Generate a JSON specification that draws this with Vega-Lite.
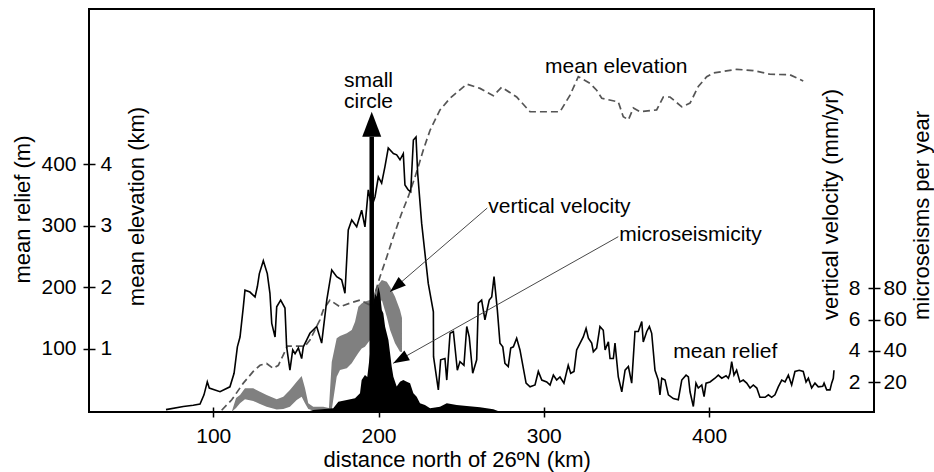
{
  "$schema": "https://vega.github.io/schema/vega-lite/v6.json",
  "width": 785,
  "height": 403,
  "autosize": {"type": "none"},
  "padding": {"left": 89, "top": 9, "right": 60, "bottom": 60},
  "background": "white",
  "config": {
    "view": {"stroke": "black", "strokeWidth": 2},
    "font": "Liberation Sans",
    "axis": {
      "grid": false,
      "domain": false,
      "labelFont": "Liberation Sans",
      "titleFont": "Liberation Sans",
      "labelColor": "black",
      "titleColor": "black",
      "tickColor": "black",
      "tickWidth": 1.5,
      "labelFontSize": 21,
      "titleFontSize": 22,
      "titleFontWeight": "normal"
    }
  },
  "datasets": {
    "relief": [
      {"km":71.4,"m":1},{"km":81.9,"m":6},{"km":87.9,"m":8},{"km":92.0,"m":10},{"km":94.4,"m":25},{"km":96.4,"m":46},{"km":97.6,"m":36},{"km":104.1,"m":30},{"km":110.1,"m":38},{"km":112.6,"m":60},{"km":114.6,"m":103},{"km":116.2,"m":119},{"km":118.2,"m":168},{"km":119.2,"m":195},{"km":122.2,"m":192},{"km":125.3,"m":184},{"km":126.7,"m":201},{"km":127.9,"m":222},{"km":130.3,"m":243},{"km":132.7,"m":222},{"km":134.3,"m":190},{"km":135.4,"m":141},{"km":137.4,"m":119},{"km":138.4,"m":168},{"km":140.8,"m":179},{"km":143.4,"m":166},{"km":144.4,"m":103},{"km":146.4,"m":65},{"km":148.1,"m":98},{"km":149.5,"m":92},{"km":151.5,"m":101},{"km":153.5,"m":84},{"km":154.5,"m":103},{"km":156.5,"m":114},{"km":158.5,"m":125},{"km":162.6,"m":136},{"km":165.6,"m":109},{"km":168.7,"m":179},{"km":171.7,"m":228},{"km":174.7,"m":217},{"km":177.7,"m":212},{"km":179.7,"m":190},{"km":181.7,"m":293},{"km":183.8,"m":309},{"km":186.8,"m":298},{"km":189.8,"m":325},{"km":191.8,"m":298},{"km":193.8,"m":358},{"km":195.9,"m":331},{"km":197.9,"m":347},{"km":199.9,"m":379},{"km":201.9,"m":369},{"km":203.9,"m":396},{"km":205.9,"m":426},{"km":209.0,"m":417},{"km":211.0,"m":415},{"km":213.0,"m":407},{"km":215.0,"m":417},{"km":216.0,"m":366},{"km":218.0,"m":358},{"km":219.5,"m":355},{"km":221.1,"m":439},{"km":222.7,"m":444},{"km":223.7,"m":385},{"km":226.1,"m":304},{"km":230.1,"m":206},{"km":233.2,"m":160},{"km":233.3,"m":87},{"km":236.2,"m":33},{"km":237.6,"m":82},{"km":240.2,"m":84},{"km":241.3,"m":49},{"km":243.3,"m":125},{"km":245.3,"m":128},{"km":247.7,"m":65},{"km":249.3,"m":79},{"km":251.7,"m":73},{"km":253.4,"m":136},{"km":254.9,"m":119},{"km":257.0,"m":60},{"km":259.4,"m":82},{"km":260.4,"m":174},{"km":262.4,"m":179},{"km":264.4,"m":147},{"km":267.0,"m":179},{"km":268.5,"m":184},{"km":269.9,"m":217},{"km":271.9,"m":163},{"km":273.5,"m":109},{"km":275.2,"m":103},{"km":276.5,"m":76},{"km":278.5,"m":71},{"km":280.0,"m":101},{"km":281.6,"m":103},{"km":283.6,"m":117},{"km":285.6,"m":98},{"km":289.3,"m":44},{"km":291.7,"m":38},{"km":294.7,"m":41},{"km":296.7,"m":63},{"km":298.8,"m":49},{"km":301.8,"m":46},{"km":303.8,"m":41},{"km":305.8,"m":57},{"km":307.8,"m":49},{"km":309.8,"m":54},{"km":312.2,"m":44},{"km":314.8,"m":73},{"km":316.3,"m":60},{"km":318.3,"m":63},{"km":319.9,"m":98},{"km":323.9,"m":119},{"km":325.6,"m":133},{"km":327.0,"m":117},{"km":329.0,"m":109},{"km":330.0,"m":95},{"km":332.0,"m":101},{"km":334.0,"m":136},{"km":336.0,"m":130},{"km":337.1,"m":98},{"km":339.1,"m":111},{"km":340.1,"m":84},{"km":342.1,"m":84},{"km":343.1,"m":109},{"km":345.1,"m":54},{"km":347.2,"m":30},{"km":349.2,"m":65},{"km":351.2,"m":71},{"km":353.2,"m":44},{"km":355.2,"m":128},{"km":357.2,"m":128},{"km":359.3,"m":144},{"km":360.2,"m":111},{"km":362.3,"m":128},{"km":363.9,"m":136},{"km":365.3,"m":125},{"km":367.3,"m":65},{"km":369.3,"m":49},{"km":370.3,"m":25},{"km":371.4,"m":52},{"km":373.4,"m":49},{"km":375.4,"m":25},{"km":378.4,"m":19},{"km":381.4,"m":17},{"km":383.5,"m":49},{"km":386.1,"m":57},{"km":387.5,"m":54},{"km":388.5,"m":30},{"km":390.5,"m":6},{"km":392.1,"m":44},{"km":393.5,"m":36},{"km":395.6,"m":41},{"km":397.0,"m":22},{"km":398.2,"m":44},{"km":400.6,"m":46},{"km":403.6,"m":52},{"km":405.6,"m":57},{"km":407.7,"m":52},{"km":410.3,"m":56},{"km":411.7,"m":52},{"km":412.7,"m":60},{"km":413.7,"m":79},{"km":415.1,"m":57},{"km":416.7,"m":65},{"km":418.7,"m":46},{"km":420.7,"m":49},{"km":422.8,"m":44},{"km":424.8,"m":36},{"km":426.8,"m":41},{"km":428.9,"m":36},{"km":430.8,"m":21},{"km":433.9,"m":21},{"km":435.9,"m":25},{"km":437.9,"m":21},{"km":439.9,"m":25},{"km":441.9,"m":38},{"km":444.0,"m":49},{"km":446.0,"m":46},{"km":448.0,"m":57},{"km":450.0,"m":41},{"km":452.0,"m":63},{"km":454.6,"m":65},{"km":457.0,"m":63},{"km":458.7,"m":46},{"km":460.1,"m":52},{"km":462.1,"m":36},{"km":464.1,"m":44},{"km":466.1,"m":38},{"km":468.8,"m":39},{"km":469.6,"m":44},{"km":471.2,"m":33},{"km":473.2,"m":33},{"km":474.2,"m":44},{"km":475.2,"m":52},{"km":475.6,"m":65}
    ],
    "elevation": [
      {"km":105.1,"elev":0},{"km":111.2,"elev":0.17},{"km":118.2,"elev":0.44},{"km":124.2,"elev":0.63},{"km":128.3,"elev":0.73},{"km":132.3,"elev":0.76},{"km":136.3,"elev":0.68},{"km":139.4,"elev":0.73},{"km":142.4,"elev":0.9},{"km":144.8,"elev":1.04},{"km":155.5,"elev":1.04},{"km":158.5,"elev":1.14},{"km":164.6,"elev":1.47},{"km":166.6,"elev":1.63},{"km":170.6,"elev":1.79},{"km":176.7,"elev":1.68},{"km":182.7,"elev":1.74},{"km":188.8,"elev":1.79},{"km":194.8,"elev":1.71},{"km":197.9,"elev":1.9},{"km":200.9,"elev":2.17},{"km":205.0,"elev":2.49},{"km":209.0,"elev":2.82},{"km":214.0,"elev":3.2},{"km":218.0,"elev":3.47},{"km":222.1,"elev":3.79},{"km":224.1,"elev":3.96},{"km":227.1,"elev":4.23},{"km":231.2,"elev":4.55},{"km":237.2,"elev":4.88},{"km":243.3,"elev":5.07},{"km":253.4,"elev":5.3},{"km":261.4,"elev":5.23},{"km":269.5,"elev":5.11},{"km":274.5,"elev":5.25},{"km":283.6,"elev":5.09},{"km":291.7,"elev":4.85},{"km":309.8,"elev":4.85},{"km":315.9,"elev":5.12},{"km":320.9,"elev":5.42},{"km":328.0,"elev":5.31},{"km":332.0,"elev":5.2},{"km":335.1,"elev":5.07},{"km":345.1,"elev":5.01},{"km":348.1,"elev":4.77},{"km":351.2,"elev":4.72},{"km":354.2,"elev":4.91},{"km":358.2,"elev":4.85},{"km":368.3,"elev":4.88},{"km":372.3,"elev":5.09},{"km":376.4,"elev":5.09},{"km":383.5,"elev":4.93},{"km":388.5,"elev":4.99},{"km":393.5,"elev":5.26},{"km":398.6,"elev":5.42},{"km":402.6,"elev":5.48},{"km":416.7,"elev":5.54},{"km":426.8,"elev":5.52},{"km":436.9,"elev":5.46},{"km":449.0,"elev":5.45},{"km":457.0,"elev":5.35}
    ],
    "velocity": [
      {"km":111.2,"lo":0.12,"hi":0.12},{"km":113.8,"lo":0.36,"hi":1.0},{"km":116.2,"lo":0.66,"hi":1.19},{"km":119.2,"lo":0.91,"hi":1.61},{"km":124.2,"lo":0.8,"hi":1.61},{"km":128.3,"lo":0.61,"hi":1.4},{"km":132.3,"lo":0.44,"hi":1.19},{"km":138.4,"lo":0.26,"hi":0.91},{"km":142.4,"lo":0.29,"hi":1.08},{"km":146.4,"lo":0.44,"hi":1.51},{"km":150.5,"lo":0.87,"hi":2.03},{"km":153.5,"lo":1.08,"hi":2.4},{"km":155.5,"lo":0.66,"hi":1.63},{"km":157.5,"lo":0.29,"hi":0.66},{"km":160.5,"lo":0.2,"hi":0.44},{"km":166.6,"lo":0.17,"hi":0.44},{"km":170.0,"lo":0.13,"hi":0.36},{"km":171.7,"lo":0.23,"hi":3.29},{"km":174.7,"lo":2.35,"hi":4.8},{"km":176.7,"lo":2.78,"hi":4.95},{"km":180.8,"lo":2.89,"hi":5.12},{"km":183.8,"lo":3.21,"hi":5.33},{"km":185.8,"lo":3.55,"hi":5.86},{"km":187.8,"lo":3.87,"hi":6.82},{"km":189.8,"lo":4.16,"hi":7.03},{"km":191.8,"lo":4.27,"hi":7.15},{"km":194.9,"lo":4.69,"hi":7.25},{"km":196.7,"lo":5.65,"hi":7.5},{"km":198.9,"lo":6.61,"hi":8.09},{"km":202.0,"lo":7.25,"hi":8.52},{"km":205.0,"lo":6.18,"hi":8.41},{"km":207.0,"lo":5.33,"hi":8.07},{"km":210.0,"lo":4.48,"hi":7.46},{"km":213.0,"lo":3.95,"hi":6.61},{"km":214.2,"lo":3.93,"hi":6.1}
    ],
    "seismicity": [
      {"km":153.5,"n":0},{"km":160.5,"n":2.3},{"km":172.6,"n":3.4},{"km":175.7,"n":7.6},{"km":180.8,"n":8.7},{"km":185.8,"n":9.8},{"km":188.8,"n":12.9},{"km":189.8,"n":21.4},{"km":191.8,"n":24.6},{"km":193.2,"n":23.3},{"km":194.9,"n":38.5},{"km":195.9,"n":59.7},{"km":196.9,"n":70.3},{"km":197.9,"n":76.7},{"km":198.9,"n":74.6},{"km":199.9,"n":80.9},{"km":200.9,"n":76.7},{"km":202.0,"n":66.1},{"km":202.9,"n":64.0},{"km":204.0,"n":55.4},{"km":206.0,"n":46.9},{"km":207.0,"n":38.5},{"km":208.0,"n":29.9},{"km":209.0,"n":23.5},{"km":211.0,"n":17.2},{"km":213.0,"n":20.3},{"km":215.0,"n":21.4},{"km":217.1,"n":20.3},{"km":219.1,"n":19.3},{"km":221.1,"n":12.9},{"km":223.1,"n":10.8},{"km":225.1,"n":6.6},{"km":228.1,"n":5.5},{"km":231.2,"n":3.4},{"km":237.2,"n":4.4},{"km":241.3,"n":6.6},{"km":247.3,"n":5.5},{"km":253.4,"n":4.8},{"km":261.4,"n":4.0},{"km":269.5,"n":2.7},{"km":273.5,"n":1.2},{"km":276.5,"n":0}
    ],
    "labels": [
      {"label":"small","km":179.1,"m":526},
      {"label":"circle","km":179.1,"m":491},
      {"label":"mean elevation","km":300.8,"m":548.5},
      {"label":"vertical velocity","km":266.4,"m":320.5},
      {"label":"microseismicity","km":345.7,"m":275},
      {"label":"mean relief","km":378.4,"m":84.8}
    ],
    "pointers": [
      {"arrow":"vertical velocity","km":265.8,"m":328.6},
      {"arrow":"vertical velocity","km":207.0,"m":192.6},
      {"arrow":"microseismicity","km":345.1,"m":282.0},
      {"arrow":"microseismicity","km":208.9,"m":76.2}
    ],
    "shaft": [{"km":195.9,"m":-2.9,"m2":444.5}],
    "circleHead": [{"km":195.9,"m":485.1}],
    "vvHead": [{"km":207.0,"m":192.6}],
    "msHead": [{"km":208.9,"m":76.2}]
  },
  "encoding": {
    "x": {
      "field": "km",
      "type": "quantitative",
      "scale": {"domain": [24.82, 499.82], "nice": false, "zero": false},
      "axis": {
        "orient": "bottom",
        "values": [100, 200, 300, 400],
        "offset": -5,
        "tickSize": 10,
        "labelPadding": 25.7,
        "labelBaseline": "alphabetic",
        "labelFlush": false,
        "title": "distance north of 26ºN (km)",
        "titleX": 367.7,
        "titleY": 59.7,
        "titleBaseline": "alphabetic",
        "titleAlign": "center",
        "titleAnchor": null
      }
    }
  },
  "layer": [
    {
      "data": {"name": "velocity"},
      "mark": {"type": "area", "color": "#808080", "clip": true},
      "encoding": {
        "y": {
          "field": "lo",
          "type": "quantitative",
          "scale": {"domain": [0.1, 25.82], "nice": false, "zero": false},
          "axis": {
            "orient": "left",
            "offset": -785,
            "values": [2, 4, 6, 8],
            "ticks": false,
            "tickSize": 0,
            "labelPadding": 14,
            "title": "vertical velocity (mm/yr)",
            "titleX": -43.5,
            "titleY": 195,
            "titleAngle": 270,
            "titleBaseline": "middle",
            "titleAlign": "center"
          }
        },
        "y2": {"field": "hi"}
      }
    },
    {
      "data": {"name": "seismicity"},
      "mark": {"type": "area", "color": "black", "clip": true},
      "encoding": {
        "y": {
          "field": "n",
          "type": "quantitative",
          "scale": {"domain": [1.0, 258.2], "nice": false, "zero": false},
          "axis": {
            "orient": "right",
            "offset": -6,
            "values": [20, 40, 60, 80],
            "tickSize": 12,
            "labelPadding": 3,
            "title": "microseisms per year",
            "titleX": 53,
            "titleY": 206,
            "titleAngle": 270,
            "titleBaseline": "middle",
            "titleAlign": "center"
          }
        }
      }
    },
    {
      "data": {"name": "elevation"},
      "mark": {"type": "line", "color": "#555555", "strokeWidth": 1.7, "strokeDash": [7, 4]},
      "encoding": {
        "y": {
          "field": "elev",
          "type": "quantitative",
          "scale": {"domain": [-0.029, 6.52], "nice": false, "zero": false},
          "axis": {
            "orient": "right",
            "offset": -785,
            "values": [1, 2, 3, 4],
            "ticks": false,
            "tickSize": 0,
            "labelPadding": 11,
            "title": "mean elevation (km)",
            "titleX": 47,
            "titleY": 197,
            "titleAngle": 270,
            "titleBaseline": "middle",
            "titleAlign": "center"
          }
        }
      }
    },
    {
      "encoding": {
        "y": {
          "field": "m",
          "type": "quantitative",
          "scale": {"domain": [-2.9, 652], "nice": false, "zero": false},
          "axis": {
            "orient": "left",
            "offset": -6,
            "values": [100, 200, 300, 400],
            "tickSize": 12,
            "labelPadding": 7,
            "title": "mean relief (m)",
            "titleX": -73,
            "titleY": 200,
            "titleAngle": 270,
            "titleBaseline": "middle",
            "titleAlign": "center"
          }
        }
      },
      "layer": [
        {
          "data": {"name": "relief"},
          "mark": {"type": "line", "color": "black", "strokeWidth": 1.6}
        },
        {
          "data": {"name": "shaft"},
          "mark": {"type": "rule", "color": "black", "strokeWidth": 4.5},
          "encoding": {"y2": {"field": "m2"}}
        },
        {
          "data": {"name": "circleHead"},
          "mark": {"type": "point", "shape": "M0,0L0.76,2L-0.76,2Z", "size": 625, "filled": true, "color": "black", "opacity": 1, "strokeWidth": 0}
        },
        {
          "data": {"name": "pointers"},
          "mark": {"type": "line", "color": "#333333", "strokeWidth": 0.9},
          "encoding": {"detail": {"field": "arrow", "type": "nominal"}}
        },
        {
          "data": {"name": "vvHead"},
          "mark": {"type": "point", "shape": "M0,0L0.7,2L-0.7,2Z", "size": 256, "angle": 229.3, "filled": true, "color": "black", "opacity": 1, "strokeWidth": 0}
        },
        {
          "data": {"name": "msHead"},
          "mark": {"type": "point", "shape": "M0,0L0.7,2L-0.7,2Z", "size": 256, "angle": 240.6, "filled": true, "color": "black", "opacity": 1, "strokeWidth": 0}
        },
        {
          "data": {"name": "labels"},
          "mark": {"type": "text", "align": "left", "baseline": "alphabetic", "fontSize": 21, "font": "Liberation Sans", "color": "black"},
          "encoding": {"text": {"field": "label", "type": "nominal"}}
        }
      ]
    }
  ],
  "resolve": {"scale": {"y": "independent"}, "axis": {"y": "independent"}}
}
